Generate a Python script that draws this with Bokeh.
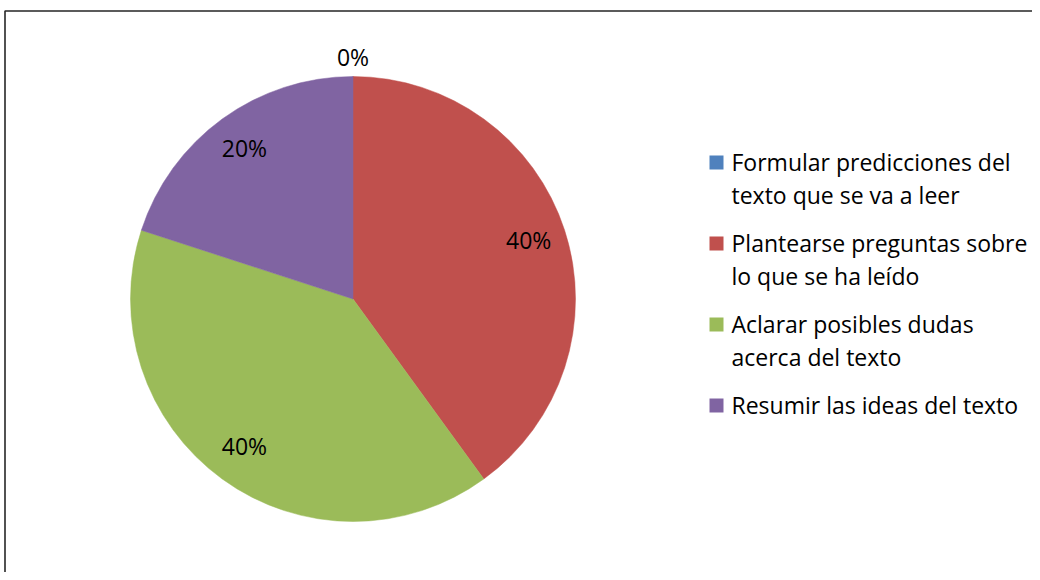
import math
from bokeh.plotting import figure
from bokeh.models import Range1d
from bokeh.core.properties import value
from bokeh.embed import file_html
from bokeh.resources import INLINE

# ---- data ----
categories = [
    "Formular predicciones del\ntexto que se va a leer",
    "Plantearse preguntas sobre\nlo que se ha leído",
    "Aclarar posibles dudas\nacerca del texto",
    "Resumir las ideas del texto",
]
percent_values = [0, 40, 40, 20]
colors = ["#4F81BD", "#C0504D", "#9BBB59", "#8064A2"]

W, H = 1032, 572
FONT = "Open Sans"
FS = "23px"

p = figure(width=W, height=H, output_backend="svg", toolbar_location=None,
           x_range=Range1d(0, W), y_range=Range1d(0, H),
           min_border=0, outline_line_color=None)
p.axis.visible = False
p.grid.visible = False
p.background_fill_color = "white"
p.border_fill_color = "white"

# screen coords (top-left origin) -> data coords
def px(x):
    return x

def py(y):
    return H - y

p.line(x=[px(1045), px(4.5), px(4.5)], y=[py(10.5), py(10.5), py(590)],
       line_color="#262626", line_width=1.6)

# ---- pie ----
cx, cy, r = px(352.5), py(298.5), 222.5
total = float(sum(percent_values))
cum = 0.0
starts, ends, mids = [], [], []
for v in percent_values:
    f0 = cum / total
    cum += v
    f1 = cum / total
    starts.append(math.pi / 2 - 2 * math.pi * f1)
    ends.append(math.pi / 2 - 2 * math.pi * f0)
    mids.append(math.pi / 2 - 2 * math.pi * (f0 + f1) / 2)

for s, e, c, v in zip(starts, ends, colors, percent_values):
    if v > 0:
        p.wedge(x=cx, y=cy, radius=r, start_angle=s, end_angle=e,
                fill_color=c, line_color=c, line_width=0.5)
    else:
        # zero slice shows as a hairline
        p.line(x=[cx, cx + r * math.cos(s)], y=[cy, cy + r * math.sin(s)],
               line_color="#9DB8DA", line_width=1)

# data labels
lx, ly, lt = [], [], []
for m, v in zip(mids, percent_values):
    rf = 1.08 if v == 0 else 0.83
    lx.append(cx + rf * r * math.cos(m))
    ly.append(cy + rf * r * math.sin(m) + 2)
    lt.append(f"{v}%")
p.text(x=lx, y=ly, text=lt, text_font=value(FONT), text_font_size=FS,
       text_align="center", text_baseline="middle", text_color="#000000")

# ---- legend ----
sq_x = 716
txt_x = 731
line_h = 33
item_gap = 15
sq_c = 162   # centre of first legend square (screen px)
base = 161   # text anchor of first legend line (screen px)
for lab, c in zip(categories, colors):
    lines = lab.split("\n")
    p.rect(x=px(sq_x), y=py(sq_c), width=14, height=14,
           fill_color=c, line_color=None)
    for k, ln in enumerate(lines):
        p.text(x=px(txt_x), y=py(base + k * line_h), text=[ln],
               text_font=value(FONT), text_font_size=FS,
               text_align="left", text_baseline="alphabetic",
               text_color="#000000")
    step = len(lines) * line_h + item_gap
    base += step
    sq_c += step

open("out.html", "w").write(file_html(p, INLINE))
